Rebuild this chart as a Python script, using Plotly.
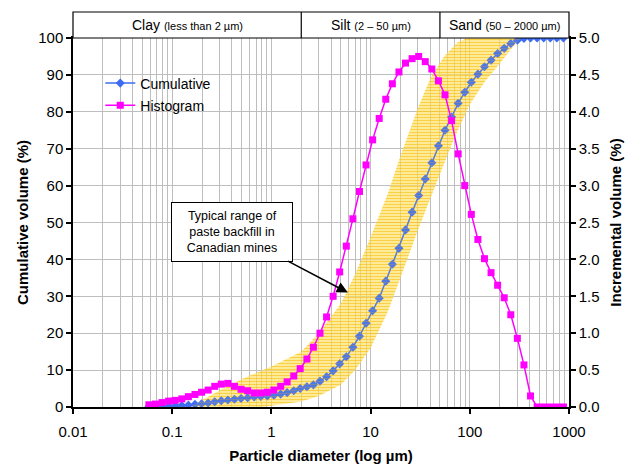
import numpy as np
import plotly.graph_objects as go

# ---------------- data ----------------
diameter_um = [0.0582, 0.0679, 0.0791, 0.0921, 0.1073, 0.125, 0.1456, 0.1697, 0.1977, 0.2303,
               0.2683, 0.3125, 0.3641, 0.4242, 0.4941, 0.5757, 0.6707, 0.7813, 0.9103, 1.06,
               1.24, 1.44, 1.68, 1.95, 2.28, 2.65, 3.09, 3.60, 4.19, 4.88,
               5.69, 6.63, 7.72, 9.00, 10.48, 12.21, 14.22, 16.57, 19.31, 22.49,
               26.20, 30.53, 35.56, 41.43, 48.27, 56.23, 65.51, 76.32, 88.91, 103.58,
               120.67, 140.58, 163.77, 190.80, 222.28, 258.95, 301.68, 351.46, 409.45, 477.01,
               555.71, 647.41, 754.23, 878.67]

cumulative_pct = [0.0, 0.0, 0.1, 0.2, 0.3, 0.4, 0.5, 0.7, 0.9, 1.1,
                  1.4, 1.7, 1.9, 2.1, 2.3, 2.5, 2.7, 2.85, 3.0, 3.2,
                  3.5, 3.9, 4.4, 5.0, 5.5, 6.0, 7.0, 8.2, 9.8, 11.7,
                  13.6, 16.2, 19.2, 22.7, 26.1, 29.5, 34.1, 38.7, 43.0, 48.0,
                  52.8, 57.3, 61.8, 66.2, 70.8, 75.0, 78.6, 82.3, 85.3, 88.0,
                  90.2, 92.2, 94.0, 95.8, 97.2, 98.5, 99.4, 99.9, 100, 100,
                  100, 100, 100, 100]

histogram_pct = [0.03, 0.04, 0.06, 0.08, 0.09, 0.11, 0.14, 0.17, 0.20, 0.23,
                 0.28, 0.31, 0.32, 0.28, 0.24, 0.22, 0.19, 0.19, 0.20, 0.23,
                 0.28, 0.34, 0.42, 0.52, 0.65, 0.81, 1.00, 1.22, 1.50, 1.83,
                 2.18, 2.55, 2.92, 3.28, 3.62, 3.91, 4.17, 4.38, 4.54, 4.66,
                 4.72, 4.75, 4.68, 4.58, 4.42, 4.23, 3.88, 3.43, 3.00, 2.61,
                 2.27, 2.01, 1.82, 1.65, 1.48, 1.25, 0.93, 0.57, 0.15, 0,
                 0, 0, 0, 0]

# typical range of paste backfill (band limits, cumulative %)
band_fine_um = [0.15, 0.3, 0.5, 1, 2, 3, 5, 7, 10, 15, 20, 30, 40, 55, 75, 95]
band_fine_pct = [0, 4.5, 7.5, 11, 15, 20, 28, 36, 46, 58, 68, 81, 89, 95, 98.8, 100]
band_coarse_um = [0.8, 2, 3, 5, 7, 10, 15, 20, 30, 45, 70, 100, 140, 200, 260, 330]
band_coarse_pct = [0, 1.5, 3, 6, 10, 16, 26, 35, 48, 60, 73, 82, 88, 93, 97, 100]

x_tick_vals = [0.01, 0.1, 1, 10, 100, 1000]
x_tick_text = ["0.01", "0.1", "1", "10", "100", "1000"]

classes = [("Clay", "(less than 2 µm)", 0.01, 2),
           ("Silt", "(2 – 50 µm)", 2, 50),
           ("Sand", "(50 – 2000 µm)", 50, 1000)]

arrow_tip = (5.9, 31)

# ---------------- figure ----------------
FONT = "Arial, Liberation Sans, sans-serif"
GRID = "#BEBEBE"
BLUE = "#3D6CF2"
MAGENTA = "#FF00FF"

band_x = band_fine_um + band_coarse_um[::-1]
band_y = band_fine_pct + band_coarse_pct[::-1]

fig = go.Figure()

# band base (beneath curves)
fig.add_trace(go.Scatter(
    x=band_x, y=band_y, mode="lines", fill="toself", showlegend=False, hoverinfo="skip",
    line=dict(width=0, color="rgba(0,0,0,0)"),
    fillcolor="rgba(255,226,110,0.6)",
    fillpattern=dict(shape="-", bgcolor="rgba(255,226,110,0.6)", fgcolor="rgba(246,186,0,0.9)",
                     size=3, solidity=0.4),
))

fig.add_trace(go.Scatter(
    x=diameter_um, y=cumulative_pct, name="Cumulative", mode="lines+markers",
    legendgroup="c",
    line=dict(color=BLUE, width=1.5),
    marker=dict(symbol="diamond", size=7, color=BLUE),
))
fig.add_trace(go.Scatter(
    x=diameter_um, y=histogram_pct, name="Histogram", mode="lines+markers", yaxis="y2",
    legendgroup="h",
    line=dict(color=MAGENTA, width=1.5),
    marker=dict(symbol="square", size=7, color=MAGENTA),
))

# light hatched overlay of the band (tints the curves inside it)
fig.add_trace(go.Scatter(
    x=band_x, y=band_y, mode="lines", fill="toself", showlegend=False, hoverinfo="skip",
    line=dict(width=0, color="rgba(0,0,0,0)"),
    fillcolor="rgba(255,220,80,0.1)",
    fillpattern=dict(shape="-", bgcolor="rgba(255,220,80,0.1)", fgcolor="rgba(240,180,0,0.45)",
                     size=3, solidity=0.35),
))

minor_vals = [d * 10.0 ** e for e in range(-2, 3) for d in range(2, 10)]

fig.update_layout(
    width=631, height=466,
    margin=dict(l=73, r=62, t=38, b=59),
    paper_bgcolor="white", plot_bgcolor="white",
    font=dict(family=FONT, size=15, color="black"),
    showlegend=True,
    legend=dict(x=0.055, y=0.92, xanchor="left", yanchor="top",
                bgcolor="rgba(0,0,0,0)", font=dict(size=14, family=FONT),
                tracegroupgap=1, itemwidth=30),
    xaxis=dict(
        type="log", range=[-2, 3], automargin=False,
        tickvals=x_tick_vals, ticktext=x_tick_text,
        ticks="outside", ticklen=5, tickwidth=1.5, tickcolor="black",
        ticklabelstandoff=5,
        showline=True, linecolor="black", linewidth=1.5, mirror=True,
        showgrid=True, gridcolor=GRID, gridwidth=1.4,
        minor=dict(tickvals=minor_vals, showgrid=True, gridcolor=GRID, gridwidth=1.4, ticks=""),
        title=dict(text="<b>Particle diameter (log µm)</b>", font=dict(size=15), standoff=12),
        tickfont=dict(size=15),
        zeroline=False,
    ),
    yaxis=dict(
        range=[0, 100], dtick=10, automargin=False,
        ticks="outside", ticklen=5, tickwidth=1.5, tickcolor="black",
        showline=True, linecolor="black", linewidth=1.5,
        showgrid=True, gridcolor=GRID, gridwidth=1.4,
        title=dict(text="<b>Cumulative volume (%)</b>", font=dict(size=15), standoff=6),
        tickfont=dict(size=15), zeroline=False,
    ),
    yaxis2=dict(
        range=[0, 5], dtick=0.5, tickformat=".1f", overlaying="y", side="right",
        automargin=False,
        ticks="outside", ticklen=5, tickwidth=1.5, tickcolor="black",
        showline=True, linecolor="black", linewidth=1.5,
        showgrid=False,
        title=dict(text="<b>Incremental volume (%)</b>", font=dict(size=15), standoff=12),
        tickfont=dict(size=15), zeroline=False,
    ),
)

# header band with soil classes
def xpaper(v):
    return (np.log10(v) + 2) / 5.0

hdr_top = 1 + 26 / 369.0
fig.add_shape(type="rect", xref="paper", yref="paper", x0=0, x1=1, y0=1, y1=hdr_top,
              line=dict(color="black", width=1.2), fillcolor="white", layer="above")
for name, rng, lo, hi in classes:
    if lo > 0.01:
        fig.add_shape(type="line", xref="paper", yref="paper", x0=xpaper(lo), x1=xpaper(lo),
                      y0=1, y1=hdr_top, line=dict(color="black", width=1.2))
    fig.add_annotation(
        xref="paper", yref="paper", x=(xpaper(lo) + xpaper(hi)) / 2, y=(1 + hdr_top) / 2,
        text=f"{name} <span style='font-size:11px'>{rng}</span>", showarrow=False,
        font=dict(size=14, family=FONT), xanchor="center", yanchor="middle",
    )

# callout for the band
fig.add_annotation(
    x=np.log10(arrow_tip[0]), y=arrow_tip[1], xref="x", yref="y",
    text="Typical range of<br>paste backfill in<br>Canadian mines",
    showarrow=True, arrowhead=2, arrowsize=1.4, arrowwidth=1.6, arrowcolor="black",
    ax=-116, ay=-61, font=dict(size=12.5, family=FONT),
    bordercolor="black", borderwidth=1, borderpad=4, bgcolor="white",
    width=112, height=50, align="center",
)

fig.write_html("out.html")
